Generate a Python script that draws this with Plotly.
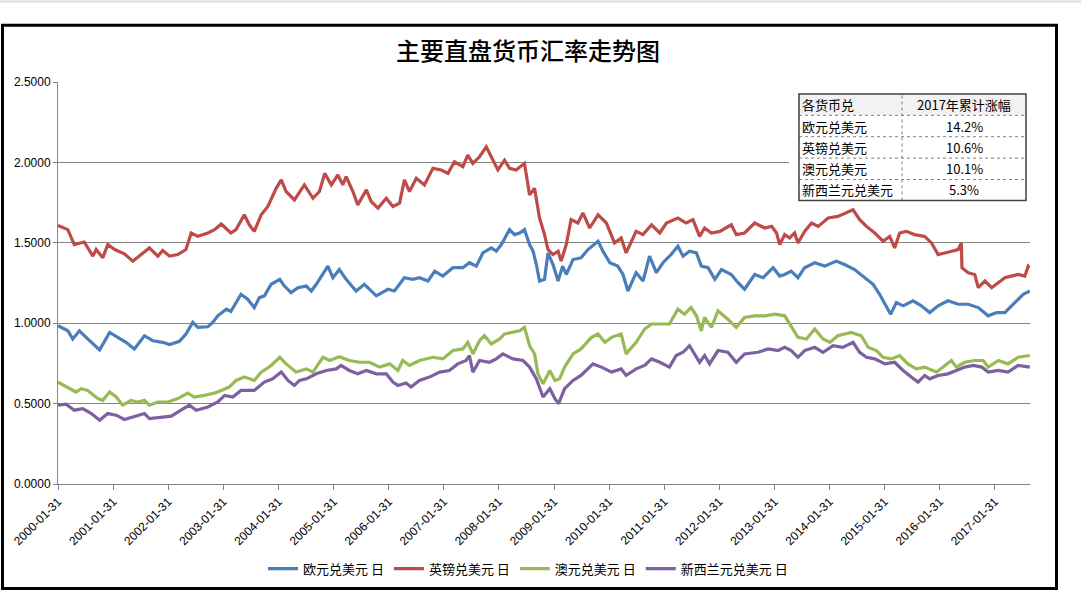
import plotly.graph_objects as go

# ---------------- data ----------------
eur_dates = ["2000-01-31","2000-04-05","2000-05-08","2000-06-21","2000-08-15","2000-09-29","2000-11-02","2001-01-07","2001-03-02","2001-04-26",
 "2001-06-20","2001-08-26","2001-10-20","2001-12-25","2002-02-09","2002-04-15","2002-05-28","2002-07-12","2002-08-15","2002-10-20",
 "2002-11-22","2002-12-25","2003-02-20","2003-03-22","2003-05-28","2003-07-11","2003-08-24","2003-09-27","2003-10-30","2003-12-14",
 "2004-02-09","2004-03-11","2004-04-24","2004-06-08","2004-08-03","2004-09-05","2004-10-08","2004-12-24","2005-01-26","2005-03-10",
 "2005-04-24","2005-06-29","2005-08-23","2005-11-10","2006-01-26","2006-03-10","2006-05-15","2006-07-10","2006-08-23","2006-10-18",
 "2006-12-02","2007-01-25","2007-04-02","2007-06-07","2007-07-20","2007-09-04","2007-10-17","2007-12-12","2008-01-14","2008-02-17",
 "2008-04-11","2008-05-14","2008-06-17","2008-07-19","2008-08-22","2008-09-14","2008-10-06","2008-10-27","2008-11-29","2008-12-22",
 "2009-01-24","2009-02-27","2009-03-29","2009-04-22","2009-06-06","2009-07-29","2009-09-13","2009-11-19","2009-12-21","2010-02-05",
 "2010-03-29","2010-05-03","2010-06-05","2010-07-29","2010-09-13","2010-10-26","2010-12-10","2011-01-23","2011-03-18","2011-05-02",
 "2011-06-05","2011-07-18","2011-09-02","2011-10-04","2011-11-18","2012-01-02","2012-02-15","2012-04-20","2012-06-04","2012-07-17",
 "2012-09-22","2012-11-17","2013-01-22","2013-03-07","2013-04-09","2013-05-22","2013-07-06","2013-08-19","2013-10-25","2013-12-30",
 "2014-03-17","2014-05-11","2014-07-16","2014-09-22","2014-11-16","2014-12-29","2015-02-03","2015-03-12","2015-04-19","2015-06-03",
 "2015-08-08","2015-10-02","2015-11-26","2016-01-21","2016-03-26","2016-06-02","2016-08-07","2016-10-13","2016-12-18","2017-02-12",
 "2017-04-07","2017-06-12","2017-08-07","2017-09-20"]
eur_values = [0.984,0.953,0.902,0.953,0.902,0.860,0.834,0.943,0.912,0.881,
 0.840,0.922,0.891,0.881,0.867,0.887,0.933,1.005,0.974,0.978,
 1.005,1.046,1.087,1.073,1.180,1.149,1.097,1.159,1.170,1.242,
 1.273,1.231,1.190,1.221,1.231,1.200,1.242,1.355,1.283,1.334,
 1.273,1.200,1.242,1.170,1.211,1.200,1.283,1.273,1.283,1.262,
 1.324,1.293,1.345,1.345,1.376,1.355,1.437,1.468,1.448,1.489,
 1.582,1.551,1.561,1.582,1.489,1.448,1.365,1.262,1.273,1.437,
 1.365,1.262,1.355,1.303,1.396,1.407,1.458,1.510,1.448,1.376,
 1.355,1.303,1.200,1.314,1.262,1.417,1.314,1.376,1.427,1.479,
 1.417,1.448,1.437,1.355,1.345,1.273,1.334,1.303,1.252,1.211,
 1.303,1.283,1.345,1.293,1.303,1.324,1.283,1.345,1.376,1.355,
 1.386,1.365,1.334,1.283,1.242,1.180,1.118,1.056,1.128,1.108,
 1.139,1.108,1.066,1.108,1.139,1.118,1.118,1.097,1.046,1.066,
 1.066,1.128,1.180,1.200]

gbp_dates = ["2000-01-31","2000-04-05","2000-05-18","2000-07-23","2000-09-18","2000-10-10","2000-11-23","2000-12-26","2001-02-10","2001-04-15",
 "2001-06-10","2001-08-04","2001-09-28","2001-11-23","2001-12-25","2002-02-09","2002-04-04","2002-05-28","2002-07-02","2002-08-15",
 "2002-10-20","2002-12-04","2003-01-17","2003-03-22","2003-04-25","2003-06-19","2003-07-22","2003-08-24","2003-10-09","2003-11-22",
 "2004-01-16","2004-02-19","2004-03-22","2004-05-16","2004-06-19","2004-07-21","2004-09-16","2004-10-29","2004-12-03","2005-01-16",
 "2005-02-28","2005-04-02","2005-04-24","2005-06-08","2005-07-10","2005-09-05","2005-10-07","2005-11-21","2006-01-15","2006-02-28",
 "2006-04-13","2006-05-15","2006-06-18","2006-08-02","2006-09-25","2006-11-20","2007-01-15","2007-02-28","2007-04-12","2007-06-07",
 "2007-07-09","2007-08-12","2007-09-25","2007-11-09","2007-12-12","2008-01-25","2008-03-09","2008-04-11","2008-05-25","2008-07-19",
 "2008-08-22","2008-09-24","2008-10-27","2008-11-29","2008-12-22","2009-01-24","2009-02-27","2009-03-19","2009-04-22","2009-05-24",
 "2009-07-08","2009-08-11","2009-09-24","2009-11-19","2010-01-13","2010-03-08","2010-04-21","2010-05-24","2010-07-29","2010-09-13",
 "2010-11-08","2011-01-02","2011-02-15","2011-05-02","2011-06-26","2011-08-10","2011-09-23","2011-10-26","2011-12-10","2012-02-04",
 "2012-04-20","2012-05-23","2012-07-17","2012-09-22","2012-11-28","2013-01-12","2013-02-14","2013-03-07","2013-04-09","2013-05-12",
 "2013-06-14","2013-07-06","2013-08-19","2013-10-04","2013-11-17","2014-01-22","2014-03-27","2014-05-22","2014-07-06","2014-08-19",
 "2014-10-03","2014-11-27","2015-01-21","2015-03-06","2015-04-08","2015-05-11","2015-06-24","2015-08-18","2015-10-24","2015-12-08",
 "2016-01-21","2016-03-05","2016-04-18","2016-06-02","2016-06-23","2016-06-27","2016-08-07","2016-09-20","2016-10-13","2016-11-26",
 "2017-01-10","2017-02-23","2017-04-07","2017-05-20","2017-07-04","2017-08-18","2017-09-09","2017-09-20"]
gbp_values = [1.608,1.582,1.489,1.505,1.417,1.458,1.407,1.489,1.458,1.431,
 1.386,1.427,1.468,1.417,1.452,1.417,1.427,1.458,1.561,1.540,
 1.561,1.582,1.617,1.561,1.582,1.674,1.612,1.571,1.674,1.726,
 1.839,1.891,1.819,1.767,1.819,1.860,1.777,1.819,1.932,1.860,
 1.922,1.860,1.911,1.819,1.736,1.829,1.757,1.716,1.777,1.726,
 1.747,1.891,1.819,1.901,1.860,1.963,1.953,1.932,2.004,1.973,
 2.045,1.994,2.035,2.097,2.035,1.953,2.014,1.963,1.953,1.994,
 1.798,1.839,1.654,1.551,1.458,1.427,1.448,1.386,1.489,1.644,
 1.623,1.685,1.592,1.674,1.623,1.499,1.530,1.437,1.571,1.551,
 1.612,1.561,1.623,1.654,1.623,1.644,1.540,1.592,1.561,1.571,
 1.612,1.551,1.561,1.623,1.592,1.602,1.561,1.489,1.551,1.530,
 1.561,1.499,1.571,1.623,1.602,1.654,1.664,1.685,1.705,1.644,
 1.602,1.561,1.510,1.540,1.468,1.561,1.571,1.551,1.540,1.499,
 1.427,1.437,1.448,1.458,1.499,1.345,1.314,1.303,1.221,1.262,
 1.221,1.252,1.283,1.293,1.303,1.293,1.355,1.345]

aud_dates = ["2000-01-31","2000-04-05","2000-05-29","2000-07-02","2000-08-15","2000-10-21","2000-11-23","2001-01-07","2001-02-20","2001-04-04",
 "2001-05-28","2001-07-12","2001-08-26","2001-09-28","2001-11-23","2002-01-28","2002-04-04","2002-06-09","2002-07-22","2002-09-28",
 "2002-12-04","2003-01-17","2003-03-11","2003-04-25","2003-06-19","2003-08-24","2003-10-09","2003-12-14","2004-02-09","2004-03-22",
 "2004-05-27","2004-08-03","2004-09-16","2004-11-21","2005-01-05","2005-03-10","2005-05-15","2005-07-21","2005-09-26","2005-12-02",
 "2006-02-07","2006-04-02","2006-05-04","2006-06-18","2006-08-23","2006-11-20","2007-01-25","2007-04-02","2007-06-07","2007-07-09",
 "2007-08-12","2007-09-25","2007-10-28","2007-12-12","2008-02-06","2008-03-09","2008-05-04","2008-06-17","2008-07-19","2008-08-22",
 "2008-09-24","2008-10-16","2008-11-19","2009-01-03","2009-02-06","2009-03-09","2009-04-11","2009-06-06","2009-07-29","2009-10-06",
 "2009-11-19","2010-01-03","2010-02-16","2010-04-21","2010-05-24","2010-07-29","2010-09-24","2010-11-08","2011-01-02","2011-03-07",
 "2011-05-02","2011-06-15","2011-07-28","2011-09-02","2011-10-04","2011-10-26","2011-12-10","2012-01-23","2012-03-28","2012-05-23",
 "2012-07-17","2012-09-22","2012-11-28","2013-02-04","2013-04-09","2013-05-12","2013-07-06","2013-09-01","2013-10-25","2013-12-19",
 "2014-02-03","2014-03-27","2014-06-24","2014-08-29","2014-10-14","2014-12-08","2015-01-21","2015-03-16","2015-05-11","2015-07-05",
 "2015-08-29","2015-10-24","2015-12-08","2016-01-10","2016-02-23","2016-04-18","2016-05-21","2016-07-15","2016-09-20","2016-11-15",
 "2016-12-18","2017-02-23","2017-04-28","2017-07-04","2017-09-20"]
aud_values = [0.634,0.603,0.572,0.593,0.582,0.531,0.520,0.572,0.541,0.490,
 0.520,0.510,0.520,0.490,0.510,0.510,0.531,0.566,0.541,0.551,
 0.566,0.582,0.603,0.644,0.665,0.644,0.696,0.737,0.788,0.747,
 0.696,0.716,0.696,0.788,0.768,0.792,0.768,0.757,0.757,0.727,
 0.747,0.706,0.768,0.737,0.768,0.788,0.778,0.830,0.840,0.881,
 0.809,0.891,0.922,0.871,0.902,0.933,0.943,0.953,0.974,0.860,
 0.809,0.685,0.624,0.706,0.644,0.654,0.727,0.809,0.840,0.912,
 0.933,0.881,0.912,0.933,0.809,0.881,0.964,0.995,0.995,0.995,
 1.087,1.056,1.097,1.046,0.953,1.036,0.974,1.077,1.025,0.974,
 1.036,1.046,1.046,1.056,1.046,0.995,0.912,0.902,0.964,0.902,
 0.881,0.922,0.943,0.922,0.850,0.830,0.788,0.778,0.799,0.747,
 0.716,0.727,0.706,0.696,0.727,0.768,0.727,0.757,0.768,0.768,
 0.727,0.768,0.747,0.788,0.799]

nzd_dates = ["2000-01-31","2000-03-24","2000-05-18","2000-07-13","2000-09-08","2000-11-02","2000-12-26","2001-02-20","2001-04-15","2001-06-20",
 "2001-08-26","2001-09-28","2001-12-15","2002-02-20","2002-04-25","2002-06-20","2002-08-04","2002-10-20","2002-12-25","2003-02-09",
 "2003-04-04","2003-05-28","2003-08-24","2003-10-30","2003-12-24","2004-02-19","2004-04-03","2004-05-16","2004-06-19","2004-08-03",
 "2004-10-08","2004-12-13","2005-02-18","2005-03-21","2005-05-15","2005-07-10","2005-09-05","2005-11-10","2006-01-15","2006-02-28",
 "2006-04-02","2006-05-26","2006-06-28","2006-08-23","2006-10-28","2007-01-04","2007-03-09","2007-05-04","2007-06-28","2007-07-20",
 "2007-08-12","2007-09-25","2007-12-01","2008-01-14","2008-02-27","2008-05-04","2008-07-09","2008-08-22","2008-10-06","2008-11-19",
 "2009-01-03","2009-02-06","2009-03-02","2009-04-11","2009-06-06","2009-07-29","2009-10-16","2009-12-11","2010-02-16","2010-04-21",
 "2010-05-24","2010-07-29","2010-09-24","2010-11-08","2011-01-02","2011-03-07","2011-04-21","2011-06-05","2011-07-18","2011-09-23",
 "2011-10-26","2011-11-28","2012-01-23","2012-03-28","2012-05-23","2012-07-17","2012-10-15","2012-12-20","2013-02-25","2013-04-09",
 "2013-05-22","2013-07-06","2013-08-19","2013-10-25","2013-12-19","2014-02-24","2014-04-29","2014-07-06","2014-08-19","2014-10-03",
 "2014-11-27","2015-02-03","2015-04-08","2015-06-03","2015-07-27","2015-09-10","2015-10-24","2015-11-26","2016-01-21","2016-03-26",
 "2016-05-21","2016-07-15","2016-09-10","2016-11-05","2016-12-18","2017-02-23","2017-04-28","2017-07-04","2017-09-20"]
nzd_values = [0.490,0.496,0.459,0.469,0.438,0.397,0.438,0.428,0.401,0.417,
 0.438,0.407,0.417,0.422,0.459,0.490,0.459,0.479,0.510,0.551,
 0.541,0.582,0.582,0.634,0.654,0.696,0.644,0.613,0.644,0.654,
 0.685,0.706,0.716,0.737,0.706,0.685,0.706,0.685,0.685,0.634,
 0.613,0.628,0.603,0.644,0.665,0.696,0.706,0.747,0.768,0.799,
 0.696,0.768,0.757,0.778,0.809,0.778,0.768,0.727,0.654,0.541,
 0.593,0.531,0.500,0.593,0.644,0.675,0.747,0.727,0.696,0.716,
 0.675,0.716,0.737,0.778,0.757,0.727,0.799,0.819,0.860,0.757,
 0.799,0.747,0.830,0.819,0.757,0.809,0.819,0.840,0.830,0.850,
 0.830,0.788,0.830,0.850,0.819,0.860,0.850,0.881,0.819,0.788,
 0.778,0.747,0.757,0.706,0.665,0.634,0.675,0.654,0.675,0.685,
 0.706,0.727,0.737,0.727,0.696,0.706,0.696,0.737,0.727]

series_names = ["欧元兑美元 日", "英镑兑美元 日", "澳元兑美元 日", "新西兰元兑美元 日"]
series_colors = ["#4A7EBB", "#BE4B48", "#98B954", "#7D60A0"]

x_tick_labels = ["2000-01-31","2001-01-31","2002-01-31","2003-01-31","2004-01-31","2005-01-31",
                 "2006-01-31","2007-01-31","2008-01-31","2009-01-31","2010-01-31","2011-01-31",
                 "2012-01-31","2013-01-31","2014-01-31","2015-01-31","2016-01-31","2017-01-31"]
x_range = ["2000-01-31", "2017-09-21"]
y_ticks = [0.0, 0.5, 1.0, 1.5, 2.0, 2.5]

title_text = "主要直盘货币汇率走势图"
table_header = ["各货币兑", "2017年累计涨幅"]
table_names = ["欧元兑美元", "英镑兑美元", "澳元兑美元", "新西兰元兑美元"]
table_values = ["14.2%", "10.6%", "10.1%", "5.3%"]

# ---------------- layout helpers (pixel -> paper) ----------------
W, H = 1081, 595
L, R, T, B = 58, 51, 82, 109
PW, PH = W - L - R, H - T - B

def px(x):
    return (x - L) / PW

def py(y):
    return (H - B - y) / PH

CJK = "Noto Sans CJK SC"
LAT = "Liberation Sans"

fig = go.Figure()
for d, v, n, c in zip([eur_dates, gbp_dates, aud_dates, nzd_dates],
                      [eur_values, gbp_values, aud_values, nzd_values],
                      series_names, series_colors):
    fig.add_trace(go.Scatter(x=d, y=v, name=n, mode="lines",
                             line=dict(color=c, width=3.2)))

shapes = []
annotations = []

# outer frame
shapes.append(dict(type="rect", xref="paper", yref="paper",
                   x0=px(2.5), x1=px(1056.5), y0=py(591), y1=py(25),
                   line=dict(color="black", width=3), fillcolor="rgba(0,0,0,0)", layer="above"))
shapes.append(dict(type="rect", xref="paper", yref="paper",
                   x0=px(0), x1=px(1081), y0=py(2), y1=py(0),
                   line=dict(width=0), fillcolor="#DDDDDD", layer="above"))

# table background (covers gridlines)
shapes.append(dict(type="rect", xref="paper", yref="paper",
                   x0=px(789), x1=px(1031), y0=py(206), y1=py(88),
                   line=dict(width=0), fillcolor="white", layer="above"))
tx0, tx1, tdiv = 799, 1026, 902
row_y = [94, 115.5, 137, 158.5, 180, 201]
shapes.append(dict(type="rect", xref="paper", yref="paper",
                   x0=px(tx0), x1=px(tx1), y0=py(row_y[1]), y1=py(row_y[0]),
                   line=dict(width=0), fillcolor="#F2F2F2", layer="above"))
for yy in row_y[1:-1]:
    shapes.append(dict(type="line", xref="paper", yref="paper",
                       x0=px(tx0), x1=px(tx1), y0=py(yy), y1=py(yy),
                       line=dict(color="#7F7F7F", width=1, dash="dot"), layer="above"))
shapes.append(dict(type="line", xref="paper", yref="paper",
                   x0=px(tdiv), x1=px(tdiv), y0=py(row_y[-1]), y1=py(row_y[0]),
                   line=dict(color="#7F7F7F", width=1, dash="dot"), layer="above"))
shapes.append(dict(type="rect", xref="paper", yref="paper",
                   x0=px(tx0), x1=px(tx1), y0=py(row_y[-1]), y1=py(row_y[0]),
                   line=dict(color="#404040", width=1.5), fillcolor="rgba(0,0,0,0)", layer="above"))

left_col = [table_header[0]] + table_names
right_col = [table_header[1]] + table_values
for i in range(5):
    yc = (row_y[i] + row_y[i + 1]) / 2
    annotations.append(dict(xref="paper", yref="paper", x=px(tx0 + 1), y=py(yc),
                            xanchor="left", yanchor="middle", showarrow=False,
                            text=left_col[i], font=dict(family=CJK, size=13, color="black")))
    annotations.append(dict(xref="paper", yref="paper", x=px((tdiv + tx1) / 2), y=py(yc),
                            xanchor="center", yanchor="middle", showarrow=False,
                            text=right_col[i], font=dict(family=CJK, size=13, color="black")))

# title
annotations.append(dict(xref="paper", yref="paper", x=px(528), y=py(49),
                        xanchor="center", yanchor="middle", showarrow=False,
                        text=title_text, font=dict(family=CJK, size=24, color="black", weight=500)))

fig.update_layout(
    width=W, height=H,
    margin=dict(l=L, r=R, t=T, b=B, pad=0),
    paper_bgcolor="white", plot_bgcolor="white",
    showlegend=True,
    legend=dict(orientation="h", x=px(528), xanchor="center", y=py(571), yanchor="middle",
                font=dict(family=CJK, size=13, color="black"), bgcolor="rgba(0,0,0,0)",
                itemwidth=30, tracegroupgap=0),
    xaxis=dict(type="date", range=x_range, tickvals=x_tick_labels, ticktext=x_tick_labels,
               tickangle=-45, ticks="outside", ticklen=5, tickcolor="#868686",
               showline=True, linecolor="#868686", linewidth=1, showgrid=False, zeroline=False,
               tickfont=dict(family=LAT, size=12, color="black")),
    yaxis=dict(range=[0, 2.5], tickvals=y_ticks, tickformat=".4f", ticks="outside", ticklen=4,
               tickcolor="#868686", showline=True, linecolor="#868686", linewidth=1,
               showgrid=True, gridcolor="#868686", gridwidth=1, zeroline=False,
               tickfont=dict(family=LAT, size=12, color="black")),
    shapes=shapes, annotations=annotations,
)

fig.write_html("out.html", config={"displayModeBar": False},
               post_script="document.body.style.margin='0';document.body.style.overflow='hidden';")
